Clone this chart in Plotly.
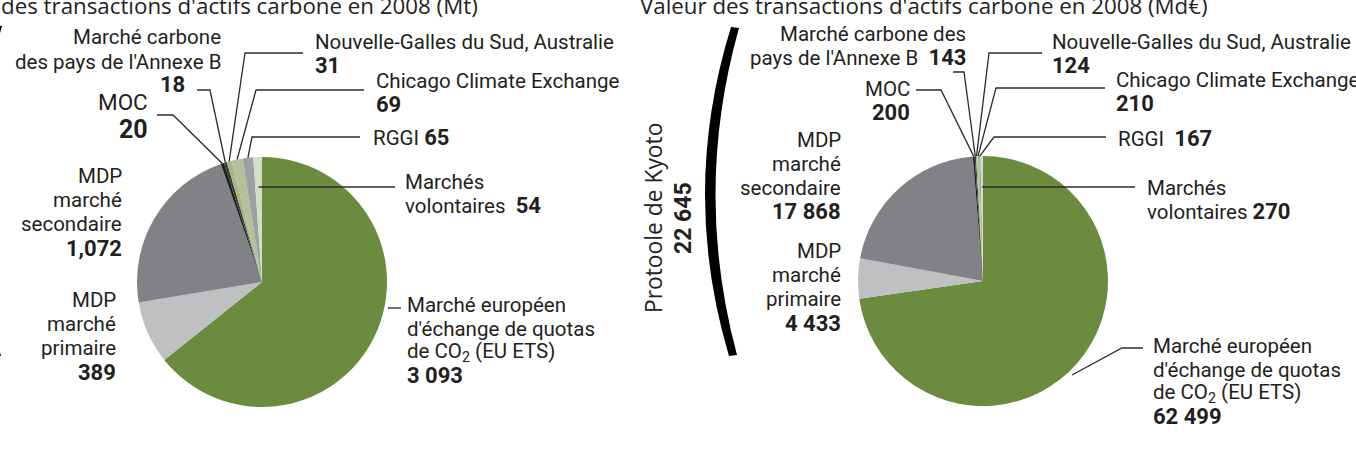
import math
import plotly.graph_objects as go

W, H = 1356, 453

# ---------------- data ----------------
categories = [
    "Marché européen d'échange de quotas de CO2 (EU ETS)",
    "MDP marché primaire",
    "MDP marché secondaire",
    "MOC",
    "Marché carbone des pays de l'Annexe B",
    "Nouvelle-Galles du Sud, Australie",
    "Chicago Climate Exchange",
    "RGGI",
    "Marchés volontaires",
]
volume_mt = [3093, 389, 1072, 20, 18, 31, 69, 65, 54]
value_md = [62499, 4433, 17868, 200, 143, 124, 210, 167, 270]
volume_labels = ["3 093", "389", "1,072", "20", "18", "31", "69", "65", "54"]
value_labels = ["62 499", "4 433", "17 868", "200", "143", "124", "210", "167", "270"]
kyoto_total_label = "22 645"
title_left = "des transactions d'actifs carbone en 2008 (Mt)"
title_right = "Valeur des transactions d'actifs carbone en 2008 (Md€)"
kyoto_label = "Protoole de Kyoto"

colors = ["#6b8b3f", "#bec0c2", "#808285", "#1e1e1e", "#3a3a3a",
          "#a6b685", "#b3c098", "#9d9fa2", "#d5dbc6"]

# ---------------- layout helpers ----------------
def px(x):
    return x / W

def py(y):
    return 1 - y / H

LBL_FONT = "Roboto"
TTL_FONT = "Open Sans"
TXT = "#231f20"
LINE = "#2b2b2b"
LBL_SIZE = 20.5

pies = [
    dict(values=volume_mt, labels=volume_labels, cx=262, cy=282, r=125),
    dict(values=value_md, labels=value_labels, cx=983, cy=281, r=125),
]

fig = go.Figure()
for p in pies:
    fig.add_trace(go.Pie(
        labels=categories, values=p["values"], sort=False,
        direction="clockwise", rotation=0, textinfo="none",
        marker=dict(colors=colors, line=dict(width=0)),
        domain=dict(x=[px(p["cx"] - p["r"]), px(p["cx"] + p["r"])],
                    y=[py(p["cy"] + p["r"]), py(p["cy"] - p["r"])]),
        showlegend=False, hoverinfo="label+value",
    ))


def slice_angle(values, idx):
    tot = sum(values)
    start = sum(values[:idx])
    return (start + values[idx] / 2) / tot * 2 * math.pi


def slice_point(p, idx, frac=1.0):
    a = slice_angle(p["values"], idx)
    return (p["cx"] + p["r"] * frac * math.sin(a),
            p["cy"] - p["r"] * frac * math.cos(a))


def ray_at_y(p, idx, y):
    a = slice_angle(p["values"], idx)
    return (p["cx"] + (p["cy"] - y) * math.tan(a), y)


shapes = []


def polyline(pts):
    d = "M " + " L ".join(f"{px(x):.5f},{py(y):.5f}" for x, y in pts)
    shapes.append(dict(type="path", path=d, xref="paper", yref="paper",
                       line=dict(color=LINE, width=1.3), layer="above"))


# leader lines: (chart, slice index, label-side points, end mode)
leaders = [
    (0, 4, [(197, 90), (210, 90)], 1.0),
    (0, 3, [(157, 115), (173, 115)], 1.0),
    (0, 5, [(303, 53), (245, 53)], 1.0),
    (0, 6, [(364, 90), (256, 90)], 1.0),
    (0, 7, [(360, 137), (252, 137)], 1.0),
    (0, 8, [(395, 187)], "ray"),
    (1, 4, [(953, 72), (964, 72)], 1.0),
    (1, 3, [(916, 90), (941, 90)], 1.0),
    (1, 5, [(1042, 53), (989, 53)], 1.0),
    (1, 6, [(1105, 88), (996, 88)], 1.0),
    (1, 7, [(1106, 137), (994, 137)], 1.0),
    (1, 8, [(1135, 187)], "ray"),
]
for pi, idx, pts, mode in leaders:
    p = pies[pi]
    if mode == "ray":
        end = ray_at_y(p, idx, pts[-1][1])
    else:
        end = slice_point(p, idx, mode)
    polyline(pts + [end])

# EU ETS stubs
polyline([(388, 308), (401, 308)])
polyline([(1143, 348), (1122, 348), (1072, 375)])

# brackets (Kyoto protocol grouping)
def bracket(xo_t, xo_b, xi_t, xi_b, co, ci, yt, yb):
    ym = (yt + yb) / 2
    d = (f"M {px(xo_t):.5f},{py(yt):.5f} Q {px(co):.5f},{py(ym):.5f} {px(xo_b):.5f},{py(yb):.5f} "
         f"L {px(xi_b):.5f},{py(yb - 1):.5f} Q {px(ci):.5f},{py(ym):.5f} {px(xi_t):.5f},{py(yt + 1):.5f} Z")
    shapes.append(dict(type="path", path=d, xref="paper", yref="paper",
                       fillcolor="#000000", line=dict(width=0), layer="above"))

bracket(731, 729, 739, 737, 680, 693, 27, 356)
bracket(-6, -7, 2, 1, -58, -45, 25, 357)

# ---------------- text ----------------
annotations = []


def text(s, x, y, anchor="left", size=LBL_SIZE, font=LBL_FONT, angle=0, color=TXT):
    annotations.append(dict(text=s, x=px(x), y=py(y), xref="paper", yref="paper",
                            xanchor=anchor, yanchor="middle", showarrow=False,
                            textangle=angle,
                            font=dict(family=font, size=size, color=color)))


def bold(v, size=22):
    return f"<span style='font-size:{size}px'><b>{v}</b></span>"


NB = "\u00a0"

# blocks: (chart, slice idx, lines, x, first y, gap, anchor)
blocks = [
    (0, 0, ["Marché européen", "d'échange de quotas", "de CO<sub>2</sub> (EU ETS)", "{v}"], 405, 305, 23.5, "left"),
    (0, 1, ["MDP", "marché", "primaire", "{v}"], 118, 300, 24, "right"),
    (0, 2, ["MDP", "marché", "secondaire", "{v}"], 124, 176, 24, "right"),
    (0, 5, ["Nouvelle-Galles du Sud, Australie", "{v}"], 313, 42, 23, "left"),
    (0, 6, ["Chicago Climate Exchange", "{v}"], 374, 81, 23, "left"),
    (0, 7, ["RGGI " + "{v}"], 371, 137, 23, "left"),
    (0, 8, ["Marchés", "volontaires" + NB + NB + "{v}"], 403, 182, 23.5, "left"),
    (0, 4, ["Marché carbone", "des pays de l'Annexe B"], 223, 37, 24.5, "right"),
    (1, 0, ["Marché européen", "d'échange de quotas", "de CO<sub>2</sub> (EU ETS)", "{v}"], 1151, 346, 23.5, "left"),
    (1, 1, ["MDP", "marché", "primaire", "{v}"], 843, 251, 24, "right"),
    (1, 2, ["MDP", "marché", "secondaire", "{v}"], 843, 140, 24, "right"),
    (1, 3, ["MOC", "{v}"], 912, 89, 23.5, "right"),
    (1, 4, ["Marché carbone des", "pays de l'Annexe B" + NB + NB + "{v}"], 968, 34, 23.5, "right"),
    (1, 5, ["Nouvelle-Galles du Sud, Australie", "{v}"], 1050, 42, 23, "left"),
    (1, 6, ["Chicago Climate Exchange", "{v}"], 1114, 80, 23, "left"),
    (1, 7, ["RGGI" + NB + NB + "{v}"], 1116, 138, 23, "left"),
    (1, 8, ["Marchés", "volontaires" + NB + "{v}"], 1145, 188, 23.5, "left"),
]
for ci, idx, lines, x, y0, gap, anchor in blocks:
    v = pies[ci]["labels"][idx]
    for k, ln in enumerate(lines):
        text(ln.replace("{v}", bold(v)), x, y0 + k * gap, anchor)

# left MOC / Annexe B values (different layout)
text("MOC", 150, 102, "right", size=22.5)
text(bold(pies[0]["labels"][3], 25), 150, 129, "right")
text(bold(pies[0]["labels"][4]), 187, 85, "right")

# titles (clipped at the top edge, as in the source)
text(title_left, -1, 6, "left", size=22.3, font=TTL_FONT, color="#222")
text(title_right, 638, 6, "left", size=22.3, font=TTL_FONT, color="#222")

# Kyoto group label
text(kyoto_label, 653, 218, "center", size=22.8, font=TTL_FONT, angle=-90, color="#222")
text(bold(kyoto_total_label, 23), 683, 218, "center", angle=-90)

fig.update_layout(
    width=W, height=H, margin=dict(l=0, r=0, t=0, b=0),
    paper_bgcolor="white", plot_bgcolor="white",
    shapes=shapes, annotations=annotations, showlegend=False,
)

fig.write_html("out.html")
